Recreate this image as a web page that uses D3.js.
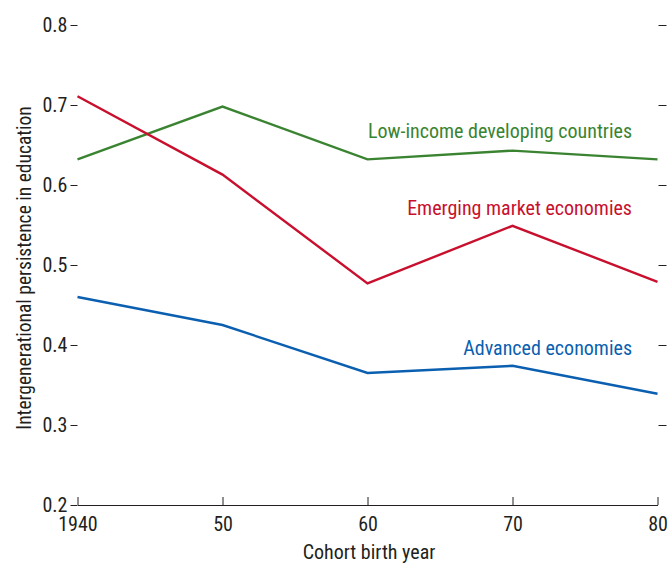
<!DOCTYPE html>
<html>
<head>
<meta charset="utf-8">
<script src="https://cdn.jsdelivr.net/npm/d3@7"></script>
<style>
html,body{margin:0;padding:0;background:#fff;}
svg{display:block;}
text{font-family:"Liberation Sans Narrow","Arial Narrow","Roboto Condensed",sans-serif;fill:#231f20;}
</style>
</head>
<body>
<svg id="chart" width="668" height="563"></svg>
<script>
const years = [1940, 1950, 1960, 1970, 1980];
const xTickLabels = ["1940", "50", "60", "70", "80"];
const yTicks = [0.2, 0.3, 0.4, 0.5, 0.6, 0.7, 0.8];
const seriesNames = ["Low-income developing countries", "Emerging market economies", "Advanced economies"];
const lowIncome = [0.632, 0.698, 0.632, 0.643, 0.632];
const emerging = [0.711, 0.613, 0.477, 0.549, 0.479];
const advanced = [0.460, 0.425, 0.365, 0.374, 0.339];
const colors = ["#3a8431", "#c8102e", "#0b5fb0"];

const svg = d3.select("#chart");
const x = d3.scaleLinear().domain([1940, 1980]).range([77.5, 657.5]);
const y = d3.scaleLinear().domain([0.2, 0.8]).range([505, 25]);

// y axis left
const yAxisL = d3.axisLeft(y).tickValues(yTicks).tickFormat(d3.format(".1f")).tickSize(7).tickPadding(3);
const gL = svg.append("g").attr("transform", "translate(77.5,0)").call(yAxisL);
gL.select(".domain").remove();
gL.selectAll("text").style("font-size", "20px").attr("fill", "#231f20");
gL.selectAll("line").attr("stroke", "#231f20");

// y axis right (ticks outward)
const yAxisR = d3.axisRight(y).tickValues(yTicks).tickFormat("").tickSize(8);
const gR = svg.append("g").attr("transform", "translate(658.5,0)").call(yAxisR);
gR.select(".domain").remove();
gR.selectAll("line").attr("stroke", "#231f20");
gR.selectAll(".tick").filter(d => d === 0.2).remove();

// x axis
const xAxis = d3.axisBottom(x).tickValues(years).tickFormat((d, i) => xTickLabels[i]).tickSizeInner(-8).tickSizeOuter(0).tickPadding(12);
const gX = svg.append("g").attr("transform", "translate(0,505)").call(xAxis);
gX.select(".domain").attr("stroke", "#231f20").attr("stroke-width", 1.2);
gX.selectAll("line").attr("stroke", "#231f20");
gX.selectAll("text").style("font-size", "20px").attr("fill", "#231f20");

// axis titles
svg.append("text").attr("x", 369).attr("y", 559).attr("text-anchor", "middle")
  .style("font-size", "20px").text("Cohort birth year");
svg.append("text").attr("transform", "translate(31,268) rotate(-90)").attr("text-anchor", "middle")
  .style("font-size", "19.5px").text("Intergenerational persistence in education");

// lines
const all = [lowIncome, emerging, advanced];
const line = d3.line().x((d, i) => x(years[i])).y(d => y(d));
all.forEach((s, k) => {
  svg.append("path").datum(s).attr("d", line).attr("fill", "none")
    .attr("stroke", colors[k]).attr("stroke-width", 2.4).attr("stroke-linejoin", "miter");
});

// labels
const labelY = [0.659, 0.562, 0.387];
seriesNames.forEach((n, k) => {
  svg.append("text").attr("x", 632).attr("y", y(labelY[k])).attr("text-anchor", "end")
    .style("font-size", "20px").style("fill", colors[k]).text(n);
});
</script>
</body>
</html>
